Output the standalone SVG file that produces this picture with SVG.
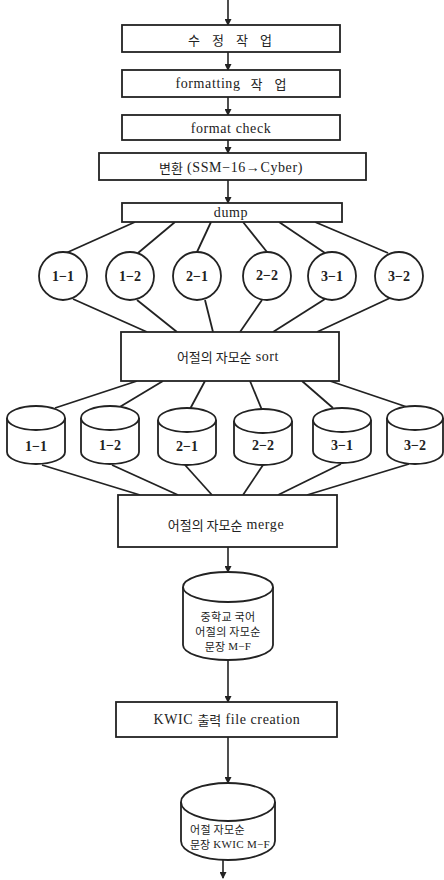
<svg xmlns="http://www.w3.org/2000/svg" width="444" height="880" viewBox="0 0 444 880">
<style>
.b{fill:#fff;stroke:#222;stroke-width:1.8}
.l{fill:none;stroke:#222;stroke-width:1.8}
.a{fill:none;stroke:#222;stroke-width:1.6;marker-end:url(#ah)}
.t{font-family:"Liberation Serif","Noto Sans CJK KR",serif;font-size:14px;fill:#222;text-anchor:middle;dominant-baseline:central;letter-spacing:0.6px}
.k{font-family:"Noto Sans CJK KR","Liberation Serif",sans-serif;letter-spacing:0}
.s{font-size:13px}
.c{font-size:11px;letter-spacing:0.3px}
.n{font-size:14px;font-weight:bold;letter-spacing:0}
</style>
<defs>
<marker id="ah" markerWidth="7" markerHeight="7" refX="6" refY="3.5" orient="auto" markerUnits="userSpaceOnUse">
<path d="M0,0 L7,3.5 L0,7 Z" fill="#222"/>
</marker>
</defs>
<rect width="444" height="880" fill="#fff"/>
<g id="connectors">
<line class="a" x1="228" y1="0" x2="228" y2="25"/>
<line class="a" x1="228" y1="52" x2="228" y2="70"/>
<line class="a" x1="228" y1="97" x2="228" y2="115"/>
<line class="a" x1="228" y1="140" x2="228" y2="153"/>
<line class="a" x1="228" y1="180" x2="228" y2="203"/>
<line class="l" x1="135" y1="222" x2="66" y2="253"/>
<line class="l" x1="175" y1="222" x2="138" y2="253"/>
<line class="l" x1="211" y1="222" x2="197" y2="252"/>
<line class="l" x1="243" y1="222" x2="267" y2="252"/>
<line class="l" x1="279" y1="222" x2="325" y2="253"/>
<line class="l" x1="315" y1="222" x2="388" y2="253"/>
<line class="l" x1="73" y1="299" x2="147" y2="332"/>
<line class="l" x1="137" y1="300" x2="177" y2="332"/>
<line class="l" x1="205" y1="300" x2="213" y2="332"/>
<line class="l" x1="262" y1="300" x2="240" y2="332"/>
<line class="l" x1="325" y1="299" x2="273" y2="332"/>
<line class="l" x1="390" y1="298" x2="317" y2="332"/>
<line class="l" x1="137" y1="381" x2="55" y2="408"/>
<line class="l" x1="163" y1="381" x2="118" y2="408"/>
<line class="l" x1="205" y1="381" x2="190" y2="409"/>
<line class="l" x1="250" y1="381" x2="262" y2="410"/>
<line class="l" x1="302" y1="381" x2="333" y2="408"/>
<line class="l" x1="330" y1="381" x2="407" y2="407"/>
<line class="l" x1="42" y1="465" x2="140" y2="495"/>
<line class="l" x1="112" y1="465" x2="178" y2="495"/>
<line class="l" x1="185" y1="465" x2="212" y2="495"/>
<line class="l" x1="263" y1="465" x2="243" y2="495"/>
<line class="l" x1="341" y1="464" x2="278" y2="495"/>
<line class="l" x1="409" y1="464" x2="307" y2="495"/>
<line class="a" x1="228" y1="547" x2="228" y2="572"/>
<line class="a" x1="228" y1="660" x2="228" y2="702"/>
<line class="a" x1="228" y1="737" x2="228" y2="783"/>
<line class="a" x1="223" y1="860" x2="223" y2="878"/>
</g>
<g id="n1"><rect class="b" x="122" y="25" width="218" height="27"/><text class="t k s" x="236" y="39" style="letter-spacing:12px">수정작업</text></g>
<g id="n2"><rect class="b" x="122" y="70" width="218" height="27"/><text class="t" x="231" y="83">formatting<tspan class="k s" dx="10">작</tspan><tspan class="k s" dx="12">업</tspan></text></g>
<g id="n3"><rect class="b" x="122" y="115" width="218" height="25"/><text class="t" x="231" y="128">format  check</text></g>
<g id="n4"><rect class="b" x="99" y="153" width="267" height="27"/><text class="t" x="231" y="167"><tspan class="k s">변환</tspan> (SSM−16→Cyber)</text></g>
<g id="n5"><rect class="b" x="122" y="203" width="220" height="19"/><text class="t" x="231" y="212">dump</text></g>
<g id="c11"><circle class="b" cx="63" cy="276" r="24"/><text class="t n" x="63" y="276">1−1</text></g>
<g id="c12"><circle class="b" cx="130" cy="276" r="24"/><text class="t n" x="130" y="276">1−2</text></g>
<g id="c21"><circle class="b" cx="197" cy="276" r="24"/><text class="t n" x="197" y="276">2−1</text></g>
<g id="c22"><circle class="b" cx="267" cy="276" r="24"/><text class="t n" x="267" y="275">2−2</text></g>
<g id="c31"><circle class="b" cx="332" cy="276" r="24"/><text class="t n" x="332" y="276">3−1</text></g>
<g id="c32"><circle class="b" cx="399" cy="276" r="24"/><text class="t n" x="399" y="276">3−2</text></g>
<g id="n6"><rect class="b" x="121" y="332" width="218" height="49"/><text class="t" x="228" y="356"><tspan class="k s">어절의 자모순</tspan> sort</text></g>
<g id="d11"><path class="b" d="M7,418 L7,452 A29,12 0 0 0 65,452 L65,418"/><ellipse class="b" cx="36" cy="418" rx="29" ry="12"/><text class="t n" x="36" y="446">1−1</text></g>
<g id="d12"><path class="b" d="M81,418 L81,452 A29,12 0 0 0 139,452 L139,418"/><ellipse class="b" cx="110" cy="418" rx="29" ry="12"/><text class="t n" x="110" y="445">1−2</text></g>
<g id="d21"><path class="b" d="M158,420 L158,453 A29,12 0 0 0 216,453 L216,420"/><ellipse class="b" cx="187" cy="420" rx="29" ry="12"/><text class="t n" x="187" y="446">2−1</text></g>
<g id="d22"><path class="b" d="M234,421 L234,453 A29,12 0 0 0 292,453 L292,421"/><ellipse class="b" cx="263" cy="421" rx="29" ry="12"/><text class="t n" x="263" y="445">2−2</text></g>
<g id="d31"><path class="b" d="M313,420 L313,451 A29,12 0 0 0 371,451 L371,420"/><ellipse class="b" cx="342" cy="420" rx="29" ry="12"/><text class="t n" x="342" y="445">3−1</text></g>
<g id="d32"><path class="b" d="M387,418 L387,452 A28,12 0 0 0 443,452 L443,418"/><ellipse class="b" cx="415" cy="418" rx="28" ry="12"/><text class="t n" x="415" y="445">3−2</text></g>
<g id="n7"><rect class="b" x="118" y="495" width="219" height="52"/><text class="t" x="226" y="524"><tspan class="k s">어절의 자모순</tspan> merge</text></g>
<g id="d7"><path class="b" d="M183,587 L183,645 A45,15 0 0 0 273,645 L273,587"/><ellipse class="b" cx="228" cy="587" rx="45" ry="15"/>
<text class="t k c" x="228" y="616">중학교 국어</text>
<text class="t k c" x="228" y="631">어절의 자모순</text>
<text class="t c" x="228" y="646"><tspan class="k">문장</tspan> M−F</text></g>
<g id="n8"><rect class="b" x="116" y="702" width="221" height="35"/><text class="t" x="227" y="719">KWIC <tspan class="k s">출력</tspan> file  creation</text></g>
<g id="d8"><path class="b" d="M181,802 L181,841 A47,19 0 0 0 275,841 L275,802"/><ellipse class="b" cx="228" cy="802" rx="47" ry="19"/>
<text class="t k c" x="190" y="829" style="text-anchor:start">어절 자모순</text>
<text class="t c" x="190" y="844" style="text-anchor:start"><tspan class="k">문장</tspan> KWIC M−F</text></g>
</svg>
